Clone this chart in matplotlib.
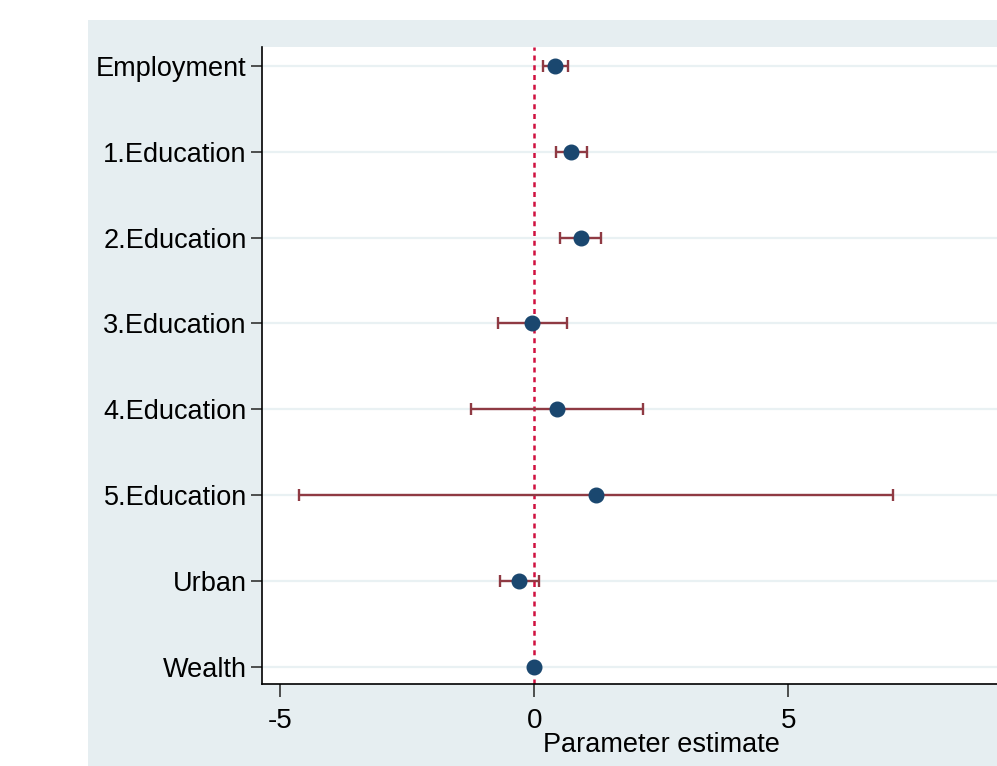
import numpy as np
import matplotlib.pyplot as plt
from matplotlib.patches import Rectangle

plt.rcParams['font.family'] = ['Liberation Sans', 'DejaVu Sans']

# coeficientes e intervalos de confianza
variables = ['Employment', '1.Education', '2.Education', '3.Education',
             '4.Education', '5.Education', 'Urban', 'Wealth']
estimate = [0.41, 0.73, 0.92, -0.04, 0.45, 1.21, -0.29, 0.0]
ci_low = [0.18, 0.43, 0.51, -0.71, -1.24, -4.62, -0.67, 0.0]
ci_high = [0.67, 1.04, 1.32, 0.65, 2.14, 7.06, 0.10, 0.0]
xticks = [-5, 0, 5]

W, H = 997, 766
fig = plt.figure(figsize=(W / 100, H / 100), dpi=100)
fig.patch.set_facecolor('white')
# panel gris de fondo
fig.patches.append(Rectangle((88 / W, 0), 1 - 88 / W, (H - 20) / H,
                             transform=fig.transFigure, facecolor='#e6eef1',
                             edgecolor='none', zorder=-10))

ax = fig.add_axes([262 / W, (H - 684) / H, 1 - 262 / W, (684 - 47) / H])
ax.set_zorder(5)
ax.set_facecolor('white')

y = np.arange(1, len(variables) + 1)
est = np.array(estimate)
lo = np.array(ci_low)
hi = np.array(ci_high)

for yi in y:
    ax.axhline(yi, color='#e9f1f3', lw=1.6, zorder=1)

ax.axvline(0, color='#d0103f', lw=1.8, ls=(0, (2.0, 1.9)), zorder=2)

ax.errorbar(est, y, xerr=[est - lo, hi - est], fmt='none', ecolor='#8f3a43',
            elinewidth=1.7, capsize=4.5, capthick=1.7, zorder=3)
ax.plot(est, y, 'o', color='#1a476f', ms=10.5, zorder=4)

ax.set_xlim(-5.35, 9.1)
ax.set_ylim(8.2, 0.78)
ax.set_yticks(y)
ax.set_yticklabels(variables, fontsize=19.5)
ax.set_xticks(xticks)
ax.set_xticklabels([str(t) for t in xticks], fontsize=20)
ax.tick_params(axis='y', direction='out', length=8, width=1.2, color='#333333', pad=3)
ax.tick_params(axis='x', direction='out', length=9, width=1.2, color='#333333', pad=8)

for s in ['top', 'right']:
    ax.spines[s].set_visible(False)
for s in ['left', 'bottom']:
    ax.spines[s].set_linewidth(1.2)
    ax.spines[s].set_color('black')

ax.set_xlabel('Parameter estimate', fontsize=19.5)
ax.xaxis.set_label_coords((661 - 262) / (W - 262), -0.076)
ax.xaxis.label.set_va('top')

fig.savefig('out.png', dpi=100)
